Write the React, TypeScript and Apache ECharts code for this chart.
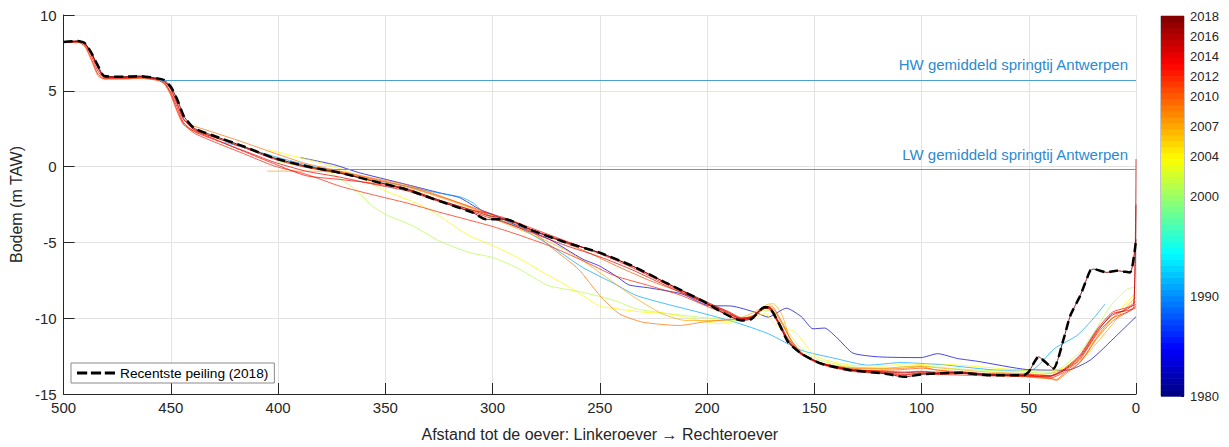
import React, { useEffect, useRef } from "react";
import * as echarts from "echarts";

// ---- data ----
const X_TICKS_MIN = 0;
const X_TICKS_MAX = 500;
const Y_MIN = -15;
const Y_MAX = 10;
const HW_LEVEL = 5.7;
const HW_START = 455;
const LW_LEVEL = -0.2;
const LW_START = 380;
const CB_MIN = 1980;
const CB_MAX = 2018;
const CB_TICKS = [1980, 1990, 2000, 2004, 2007, 2010, 2012, 2014, 2016, 2018];
const HW_TEXT = "HW gemiddeld springtij Antwerpen";
const LW_TEXT = "LW gemiddeld springtij Antwerpen";
const LEGEND_TEXT = "Recentste peiling (2018)";

const p1983: [number, number][] = [
  [389.5, 0.59], [374, 0.13], [362, -0.41], [349.5, -0.85], [337, -1.29], [324.7, -1.73], [315.4, -2.05],
  [306, -2.82], [300, -3.15], [290, -3.8], [273.6, -4.79], [258, -6.1], [250.4, -6.54], [242.6, -7.2],
  [236.5, -7.8], [227, -8.0], [211.7, -8.4], [199.3, -9.17], [188.5, -9.2], [177.7, -9.6], [171.5, -9.93],
  [163, -9.34], [156, -9.9], [150.6, -10.7], [145.2, -10.65], [139, -11.35], [132, -12.3], [120, -12.55],
  [100.3, -12.6], [92.5, -12.34], [83.2, -12.66], [74, -12.84], [50.7, -13.39], [32.2, -13.43],
  [21.4, -12.77], [9, -11.14], [0, -9.9],
];
const p1991: [number, number][] = [
  [425, 1.6], [412, 1.1], [400, 0.6], [385, 0.05], [370, -0.45], [355, -0.9], [340, -1.3], [325, -1.75],
  [315, -2.0], [309, -2.4], [303, -3.15], [289, -3.92], [274, -5.12], [258, -6.65], [243, -7.74],
  [233, -8.5], [218, -9.1], [204, -9.6], [187, -10.26], [171.5, -11.02], [156, -12.12], [140, -12.66],
  [125, -13.1], [110, -12.93], [91, -13.06], [63, -13.43], [49, -13.43], [38, -12.0], [27.5, -11.14],
  [20, -10.04], [14.4, -9.06],
];
const p2001: [number, number][] = [
  [400, 0.3], [385, -0.05], [376, -0.41], [365, -1.4], [356, -2.6], [350, -3.15], [337, -3.92],
  [325, -4.9], [311, -5.66], [300, -5.99], [289, -6.65], [281, -7.3], [274, -7.85], [258, -8.29],
  [243, -8.84], [233, -9.38], [218, -9.7], [202, -9.95], [187, -10.15], [180, -9.9], [174, -9.5],
  [170, -9.5], [165, -10.26], [159, -11.55], [153, -12.34], [147, -12.8], [133, -13.2], [117, -13.3],
  [108, -13.2], [100, -13.15], [94, -13.2], [82, -13.35], [69, -13.45], [52, -13.55], [45, -13.6],
  [40, -13.6], [34, -13.2], [26, -12.2], [18, -10.6], [12, -9.2], [4, -8.07], [0, -7.96],
];
const p2004: [number, number][] = [
  [405, 1.15], [396, 0.8], [380, 0.25], [368, -0.3], [357, -1.07], [350, -1.6], [334, -2.5],
  [326, -3.15], [311, -4.55], [300, -5.2], [287, -6.1], [275, -7.1], [266, -7.8], [258, -8.5],
  [250, -9.2], [241, -9.4], [230, -9.6], [218, -9.7], [205, -10.1], [195, -10.35], [184, -10.15],
  [178, -9.9], [173, -9.7], [168, -10.45], [159, -10.9], [151, -12.3], [145, -12.75], [133, -13.1],
  [117, -13.15], [108, -13.0], [100, -13.05], [94, -13.0], [82, -13.1], [69, -13.25], [52, -13.45],
  [45, -13.5], [40, -13.5], [34, -13.3], [26, -12.5], [18, -11.2], [11, -10.0], [4, -8.9], [0, -8.3],
];
const p2007: [number, number][] = [
  [405, -0.3], [395, -0.3], [385, -0.3], [371, -0.4], [356, -0.85], [340, -1.35], [325, -2.0],
  [309, -2.8], [300, -3.4], [290, -4.0], [278, -4.7], [266, -5.5], [257, -6.3], [246, -7.4],
  [233, -8.7], [221, -9.7], [210, -10.15], [195, -10.15], [185, -10.0], [178, -9.6], [172, -9.1],
  [169, -9.05], [165, -9.8], [161, -11.5], [156, -12.3], [147, -12.95], [133, -13.25], [117, -13.3],
  [108, -13.2], [100, -13.15], [94, -13.25], [82, -13.4], [69, -13.55], [52, -13.65], [45, -13.7],
  [40, -13.65], [34, -13.4], [26, -12.8], [18, -11.6], [11, -10.4], [4, -9.2], [0, -8.6],
];
const p2009: [number, number][] = [
  [440, 2.7], [431, 2.3], [416, 1.6], [402, 0.9], [387, 0.2], [371, -0.3], [356, -0.75], [340, -1.2],
  [325, -1.9], [309, -2.75], [300, -3.3], [290, -3.9], [281, -4.35], [272, -5.4], [260, -6.76],
  [250, -8.5], [241, -9.7], [230, -10.26], [213, -10.48], [202, -10.26], [190, -10.1], [184, -10.05],
  [178, -9.8], [172, -9.3], [169, -9.4], [165, -10.4], [160, -11.6], [154, -12.5], [147, -13.0],
  [133, -13.3], [117, -13.35], [108, -13.3], [100, -13.2], [94, -13.4], [82, -13.6], [69, -13.75],
  [52, -13.85], [45, -13.95], [40, -14.0], [37, -14.1], [34, -13.8], [26, -12.9], [18, -11.2],
  [11, -10.0], [4, -9.3], [0, -8.9],
];
const p2010: [number, number][] = [
  [500, 8.18], [493, 8.2], [490, 7.9], [487, 7.0], [484, 6.0], [481, 5.78], [472, 5.78], [464, 5.82],
  [456, 5.68], [453, 5.45], [450, 4.7], [447, 3.6], [444, 2.75], [439, 2.35], [431, 2.0], [416, 1.3],
  [402, 0.6], [387, 0.0], [371, -0.35], [356, -0.8], [340, -1.3], [325, -1.95], [309, -2.7],
  [300, -3.2], [289, -3.8], [274, -4.6], [258, -5.5], [243, -6.5], [227, -7.5], [212, -8.3],
  [202, -8.9], [190, -9.55], [184, -9.95], [179, -9.9], [174, -9.35], [170, -9.2], [166, -10.0],
  [161, -11.4], [156, -12.3], [147, -13.0], [133, -13.4], [120, -13.45], [110, -13.4], [100, -13.3],
  [90, -13.45], [80, -13.55], [69, -13.7], [52, -13.8], [45, -13.85], [40, -13.95], [37, -14.05],
  [34, -13.7], [26, -12.9], [18, -11.3], [11, -10.2], [4, -9.6], [0, -9.2],
];
const p2012: [number, number][] = [
  [500, 8.2], [493, 8.2], [490, 7.95], [487, 7.1], [484, 6.1], [481, 5.8], [472, 5.8], [464, 5.85],
  [456, 5.7], [453, 5.5], [450, 4.8], [447, 3.7], [444, 2.8], [439, 2.2], [431, 1.7], [416, 0.85],
  [402, 0.05], [387, -0.5], [371, -1.3], [356, -1.85], [340, -2.4], [325, -3.0], [309, -3.6],
  [300, -3.95], [289, -4.45], [274, -5.2], [258, -6.2], [243, -7.2], [227, -7.85], [212, -8.5],
  [202, -9.1], [190, -9.8], [184, -10.1], [179, -10.0], [174, -9.4], [171, -9.35], [167, -10.2],
  [162, -11.5], [156, -12.4], [147, -13.05], [133, -13.5], [117, -13.65], [108, -13.75], [100, -13.6],
  [94, -13.7], [82, -13.75], [69, -13.8], [52, -13.85], [45, -13.9], [40, -13.95], [34, -13.6],
  [26, -12.7], [18, -11.0], [11, -10.0], [4, -9.6], [0, -9.3],
];
const p2013: [number, number][] = [
  [500, 8.22], [493, 8.26], [490, 8.1], [487, 7.5], [484, 6.55], [481, 5.92], [472, 5.9], [464, 5.95],
  [456, 5.8], [453, 5.65], [450, 5.15], [447, 4.2], [444, 3.15], [439, 2.4], [431, 1.9], [416, 1.0],
  [402, 0.2], [387, -0.6], [371, -0.85], [356, -1.1], [340, -1.5], [325, -2.2], [309, -2.9],
  [303, -3.05], [294, -3.4], [281, -4.1], [266, -4.9], [250, -5.75], [235, -6.65], [220, -7.7],
  [202, -8.9], [190, -9.65], [184, -10.05], [179, -9.95], [174, -9.3], [171, -9.3], [167, -10.2],
  [162, -11.5], [156, -12.35], [147, -12.95], [133, -13.4], [117, -13.5], [108, -13.55], [100, -13.5],
  [94, -13.55], [82, -13.6], [69, -13.65], [52, -13.7], [45, -13.75], [40, -13.8], [34, -13.4],
  [26, -12.4], [18, -10.7], [11, -9.6], [4, -9.3], [0, -9.1],
];
const p2014: [number, number][] = [
  [500, 8.2], [493, 8.25], [490, 8.05], [487, 7.3], [484, 6.3], [481, 5.85], [472, 5.85], [464, 5.9],
  [456, 5.75], [453, 5.55], [450, 4.9], [447, 3.9], [444, 2.9], [439, 2.3], [431, 1.85], [416, 1.05],
  [402, 0.3], [387, -0.3], [371, -0.7], [356, -1.15], [340, -1.6], [325, -2.3], [309, -3.0],
  [303, -3.3], [294, -3.7], [281, -4.4], [266, -5.2], [250, -5.95], [235, -6.8], [220, -7.8],
  [202, -8.95], [190, -9.7], [184, -10.05], [179, -9.95], [174, -9.35], [171, -9.4], [167, -10.3],
  [162, -11.6], [156, -12.4], [147, -13.0], [133, -13.45], [117, -13.6], [108, -13.7], [100, -13.65],
  [94, -13.7], [82, -13.65], [69, -13.75], [52, -13.8], [45, -13.85], [40, -13.85], [34, -13.5],
  [26, -12.6], [18, -10.9], [11, -9.7], [4, -9.5], [1, -9.3], [0, 0.5],
];
const p2016: [number, number][] = [
  [500, 8.22], [493, 8.27], [490, 8.1], [487, 7.45], [484, 6.5], [481, 5.9], [472, 5.88], [464, 5.92],
  [456, 5.78], [453, 5.62], [450, 5.1], [447, 4.1], [444, 3.1], [439, 2.45], [431, 2.0], [416, 1.25],
  [402, 0.5], [387, -0.05], [371, -0.45], [356, -0.95], [340, -1.45], [325, -2.2], [309, -2.9],
  [303, -3.2], [294, -3.45], [281, -4.2], [266, -4.95], [250, -5.7], [235, -6.55], [220, -7.6],
  [202, -8.8], [190, -9.6], [184, -10.0], [179, -9.9], [174, -9.3], [171, -9.25], [167, -10.1],
  [162, -11.4], [156, -12.3], [147, -12.95], [133, -13.35], [117, -13.55], [108, -13.6], [100, -13.55],
  [94, -13.6], [82, -13.55], [69, -13.7], [52, -13.75], [45, -13.8], [40, -13.8], [34, -13.45],
  [26, -12.5], [18, -10.8], [11, -9.8], [4, -9.4], [1, -9.0], [0, -2.5],
];
const p2018: [number, number][] = [
  [500, 8.22], [493.4, 8.29], [490.2, 8.16], [487.3, 7.57], [484.1, 6.69], [481, 5.97], [471.7, 5.93],
  [464, 5.97], [456.2, 5.82], [453.1, 5.71], [450, 5.27], [446.9, 4.4], [443.8, 3.3], [439.2, 2.54],
  [431.4, 2.1], [416, 1.33], [402, 0.57], [386.6, 0.02], [371, -0.41], [355.6, -0.96], [340.2, -1.51],
  [324.7, -2.28], [309.2, -3.04], [303, -3.48], [294, -3.48], [281, -4.24], [266, -5.0], [250.4, -5.66],
  [235, -6.54], [219.6, -7.63], [202.4, -8.84], [183.8, -10.15], [179.2, -10.04], [173.2, -9.27],
  [171.3, -9.27], [166.8, -10.26], [162.2, -11.57], [156, -12.34], [146.7, -13.0], [132.8, -13.43],
  [117.3, -13.65], [108, -13.87], [100.3, -13.71], [94.1, -13.65], [81.7, -13.6], [69.3, -13.76],
  [52.3, -13.76], [50, -13.54], [45.4, -12.55], [41.5, -12.99], [38.4, -13.32], [33.7, -11.35],
  [30.6, -9.82], [26, -8.51], [21.4, -6.87], [19.8, -6.76], [13.6, -6.98], [9, -6.87], [2.8, -6.98],
  [0.5, -5.45], [0, -4.8],
];

const PROFILES: { year: number; data: [number, number][] }[] = [
  { year: 1983, data: p1983 },
  { year: 1991, data: p1991 },
  { year: 2001, data: p2001 },
  { year: 2004, data: p2004 },
  { year: 2007, data: p2007 },
  { year: 2009, data: p2009 },
  { year: 2010, data: p2010 },
  { year: 2012, data: p2012 },
  { year: 2013, data: p2013 },
  { year: 2014, data: p2014 },
  { year: 2016, data: p2016 },
  { year: 2018, data: p2018 },
];

// ---- styling helpers ----
function jet(t: number): string {
  const c = (v: number) => Math.max(0, Math.min(1, v));
  const r = c(1.5 - Math.abs(4 * t - 3));
  const g = c(1.5 - Math.abs(4 * t - 2));
  const b = c(1.5 - Math.abs(4 * t - 1));
  return `rgb(${Math.round(r * 255)},${Math.round(g * 255)},${Math.round(b * 255)})`;
}
const yearColor = (y: number) => jet((y - CB_MIN) / (CB_MAX - CB_MIN));
const BAND_COUNT = 64;
const bands = Array.from({ length: BAND_COUNT }, (_, i) => i);

const FONT = "Liberation Sans, Arial, Helvetica, sans-serif";
const AXIS_COLOR = "#262626";
const REF_BLUE_LINE = "#4d9fd9";
const REF_BLUE_TEXT = "#2b8ad0";
const DASH_ICON = "path://M0,0h11v3h-11z M15,0h11v3h-11z M30,0h11v3h-11z";

export default function App() {
  const ref = useRef<HTMLDivElement>(null);
  useEffect(() => {
    if (!ref.current) return;
    const chart = echarts.init(ref.current, undefined, { renderer: "svg" });

    const profileSeries = PROFILES.map((p) => ({
      type: "line",
      name: String(p.year),
      xAxisIndex: 0,
      yAxisIndex: 0,
      data: p.data,
      symbol: "none",
      smooth: 0.2,
      lineStyle: { color: yearColor(p.year), width: 1, opacity: p.year === 2018 ? 0.9 : 0.72 },
      z: 3,
      silent: true,
    }));

    const refLine = (level: number, start: number, text: string) => ({
      type: "line",
      xAxisIndex: 0,
      yAxisIndex: 0,
      data: [],
      silent: true,
      z: 2,
      markLine: {
        symbol: "none",
        silent: true,
        animation: false,
        lineStyle: { color: REF_BLUE_LINE, width: 1.2, type: "solid" },
        label: {
          show: true,
          position: "insideEndTop",
          formatter: text,
          color: REF_BLUE_TEXT,
          fontSize: 15,
          fontFamily: FONT,
          distance: [8, 8],
        },
        data: [[{ coord: [start, level] }, { coord: [0, level] }]],
      },
    });

    const option: any = {
      animation: false,
      backgroundColor: "#ffffff",
      textStyle: { fontFamily: FONT },
      grid: [
        { left: 59, right: 93, top: 15, bottom: 51 },
        { left: 1161, width: 23, top: 16, bottom: 51, show: true, borderColor: "#8a8a8a", borderWidth: 1, backgroundColor: "transparent" },
      ],
      legend: {
        left: 71,
        top: 363,
        data: [{ name: LEGEND_TEXT, icon: DASH_ICON }],
        backgroundColor: "#ffffff",
        borderColor: "#8a8a8a",
        borderWidth: 1,
        borderRadius: 0,
        padding: [3, 6],
        itemWidth: 38,
        itemHeight: 3,
        itemGap: 5,
        textStyle: { fontSize: 13.7, color: "#000", fontFamily: FONT },
      },
      xAxis: [
        {
          gridIndex: 0,
          type: "value",
          min: X_TICKS_MIN,
          max: X_TICKS_MAX,
          interval: 50,
          inverse: true,
          name: "Afstand tot de oever: Linkeroever \u2192 Rechteroever",
          nameLocation: "middle",
          nameGap: 32,
          nameTextStyle: { fontSize: 16, color: AXIS_COLOR, fontFamily: FONT },
          axisLine: { show: true, onZero: false, lineStyle: { color: AXIS_COLOR, width: 1 } },
          axisTick: { show: true, inside: true, length: 11, lineStyle: { color: AXIS_COLOR } },
          axisLabel: { fontSize: 15, color: AXIS_COLOR, margin: 6, fontFamily: FONT },
          splitLine: { show: true, lineStyle: { color: "#e3e3e3", width: 1 } },
        },
        { gridIndex: 1, type: "value", min: 0, max: 1, show: false },
      ],
      yAxis: [
        {
          gridIndex: 0,
          type: "value",
          min: Y_MIN,
          max: Y_MAX,
          interval: 5,
          name: "Bodem (m TAW)",
          nameLocation: "middle",
          nameGap: 35,
          nameTextStyle: { fontSize: 16, color: AXIS_COLOR, fontFamily: FONT },
          axisLine: { show: true, onZero: false, lineStyle: { color: AXIS_COLOR, width: 1 } },
          axisTick: { show: true, inside: true, length: 11, lineStyle: { color: AXIS_COLOR } },
          axisLabel: { fontSize: 15, color: AXIS_COLOR, margin: 7, fontFamily: FONT },
          splitLine: { show: true, lineStyle: { color: "#e3e3e3", width: 1 } },
        },
        {
          gridIndex: 1,
          type: "value",
          min: CB_MIN,
          max: CB_MAX,
          position: "right",
          axisLine: { show: false, onZero: false },
          axisTick: { show: true, inside: true, length: 3, customValues: CB_TICKS, lineStyle: { color: AXIS_COLOR } },
          axisLabel: {
            show: true,
            customValues: CB_TICKS,
            formatter: (v: number) => String(v),
            fontSize: 13,
            color: AXIS_COLOR,
            margin: 6,
            fontFamily: FONT,
          },
          splitLine: { show: false },
        },
      ],
      series: [
        refLine(HW_LEVEL, HW_START, HW_TEXT),
        refLine(LW_LEVEL, LW_START, LW_TEXT),
        ...profileSeries,
        {
          type: "line",
          name: LEGEND_TEXT,
          xAxisIndex: 0,
          yAxisIndex: 0,
          data: p2018,
          symbol: "none",
          smooth: 0.2,
          lineStyle: { color: "#000000", width: 2.5, type: [9, 5] },
          itemStyle: { color: "#000000" },
          z: 5,
          silent: true,
        },
        {
          type: "custom",
          xAxisIndex: 1,
          yAxisIndex: 1,
          data: bands,
          silent: true,
          z: 1,
          renderItem: (params: any, api: any) => {
            const i = api.value(0);
            const y0 = CB_MIN + (i * (CB_MAX - CB_MIN)) / BAND_COUNT;
            const y1 = CB_MIN + ((i + 1) * (CB_MAX - CB_MIN)) / BAND_COUNT;
            const p0 = api.coord([0, y0]);
            const p1 = api.coord([1, y1]);
            return {
              type: "rect",
              shape: { x: p0[0], y: p1[1], width: p1[0] - p0[0], height: p0[1] - p1[1] + 0.6 },
              style: { fill: jet((i + 0.5) / BAND_COUNT) },
            };
          },
        },
      ],
    };
    chart.setOption(option);
    return () => chart.dispose();
  }, []);
  return <div ref={ref} style={{ position: "fixed", left: 0, top: 0, width: 1229, height: 447 }} />;
}
